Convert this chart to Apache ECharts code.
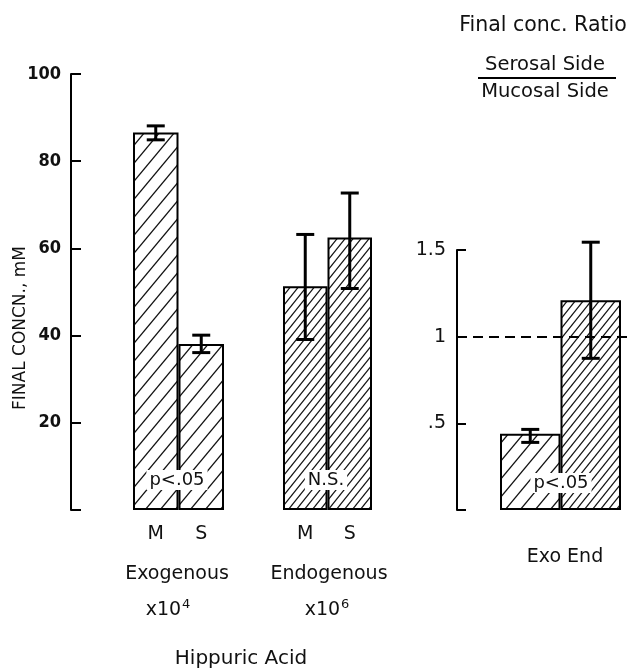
<!DOCTYPE html>
<html>
<head>
<meta charset="utf-8">
<script src="https://cdn.jsdelivr.net/npm/echarts@6/dist/echarts.min.js"></script>
<style>
html,body{margin:0;padding:0;background:#fff;}
#chart{width:630px;height:669px;}
</style>
</head>
<body>
<div id="chart"></div>
<script>
// ---- data ----
const sideCats = ['M', 'S'];
const exoMean = [86.6, 38.1];
const exoLow = [84.9, 36.1];
const exoHigh = [88.1, 40.1];
const endoMean = [51.3, 62.5];
const endoLow = [39.1, 50.8];
const endoHigh = [63.2, 72.7];
const ratioCats = ['Exo', 'End'];
const ratioMean = [0.44, 1.21];
const ratioLow = [0.39, 0.875];
const ratioHigh = [0.465, 1.545];
const concTicks = [0, 20, 40, 60, 80, 100];
const ratioTicks = [0, 0.5, 1, 1.5];
const ratioTickLabels = ['', '.5', '1', '1.5'];
const refRatio = 1;

// ---- hatch patterns ----
function hatch(w, h, lw) {
  const c = document.createElement('canvas');
  c.width = w; c.height = h;
  const ctx = c.getContext('2d');
  ctx.fillStyle = '#fff';
  ctx.fillRect(0, 0, w, h);
  ctx.strokeStyle = '#111';
  ctx.lineWidth = lw;
  [0, -h, h].forEach(function (o) {
    ctx.beginPath();
    ctx.moveTo(-w, 2 * h + o);
    ctx.lineTo(2 * w, -h + o);
    ctx.stroke();
  });
  return c;
}
const wideHatch = { image: hatch(15, 18, 1.3), repeat: 'repeat' };
const denseHatch = { image: hatch(8, 10, 1.2), repeat: 'repeat' };

function errData(lo, hi) { return lo.map(function (v, i) { return [i, v, hi[i]]; }); }
function errItem(params, api) {
  const x = api.value(0);
  const pLo = api.coord([x, api.value(1)]);
  const pHi = api.coord([x, api.value(2)]);
  const hw = 9;
  const st = { stroke: '#000', lineWidth: 3 };
  return {
    type: 'group', children: [
      { type: 'line', shape: { x1: pLo[0], y1: pLo[1], x2: pHi[0], y2: pHi[1] }, style: st },
      { type: 'line', shape: { x1: pLo[0] - hw, y1: pLo[1], x2: pLo[0] + hw, y2: pLo[1] }, style: st },
      { type: 'line', shape: { x1: pHi[0] - hw, y1: pHi[1], x2: pHi[0] + hw, y2: pHi[1] }, style: st }
    ]
  };
}

const FONT = "'DejaVu Sans', sans-serif";
const NARROW = "'Liberation Sans Narrow','DejaVu Sans Condensed',sans-serif";

function catX(gi, data, showLabels) {
  return {
    type: 'category', gridIndex: gi, data: data,
    axisLine: { show: false }, axisTick: { show: false },
    axisLabel: { show: showLabels, margin: 15, fontFamily: FONT, fontSize: 19, color: '#111' }
  };
}
function barSeries(xi, vals, pattern) {
  return {
    type: 'bar', xAxisIndex: xi, yAxisIndex: xi, data: vals, barWidth: '100%', z: 3,
    itemStyle: { color: pattern, borderColor: '#000', borderWidth: 2 },
    silent: true, animation: false
  };
}
function errSeries(xi, lo, hi) {
  return {
    type: 'custom', xAxisIndex: xi, yAxisIndex: xi, data: errData(lo, hi),
    encode: { x: 0, y: [1, 2] }, renderItem: errItem, z: 5, animation: false, silent: true
  };
}
function txt(x, y, s, size, extra) {
  const st = Object.assign({ text: s, font: size + "px 'DejaVu Sans', sans-serif", fill: '#111', textAlign: 'center', textVerticalAlign: 'middle' }, extra || {});
  return { type: 'text', x: x, y: y, z: 100, style: st };
}
function powTxt(x, y, exp) {
  return {
    type: 'text', x: x, y: y, z: 100,
    style: {
      text: '{b|x10}{s|' + exp + '}', textAlign: 'center', textVerticalAlign: 'middle', fill: '#111',
      rich: {
        b: { fontFamily: FONT, fontSize: 19, lineHeight: 24, fill: '#111' },
        s: { fontFamily: FONT, fontSize: 13, lineHeight: 24, verticalAlign: 'top', fill: '#111', padding: [0, 0, 10, 1] }
      }
    }
  };
}

const chart = echarts.init(document.getElementById('chart'), null, { renderer: 'canvas' });
chart.setOption({
  backgroundColor: '#fff',
  animation: false,
  grid: [
    { left: 133, top: 74, width: 91, height: 436 },
    { left: 283, top: 74, width: 89, height: 436 },
    { left: 500, top: 250, width: 121, height: 260 },
    { left: 457, top: 250, right: 0, height: 260 }
  ],
  xAxis: [
    catX(0, sideCats, true),
    catX(1, sideCats, true),
    catX(2, ratioCats, false),
    { type: 'value', gridIndex: 3, show: false, min: 0, max: 1 }
  ],
  yAxis: [
    {
      type: 'value', gridIndex: 0, min: concTicks[0], max: concTicks[concTicks.length - 1], interval: 20,
      offset: 62, splitLine: { show: false },
      axisLine: { show: true, lineStyle: { color: '#000', width: 2 } },
      axisTick: { show: true, inside: true, length: 10, lineStyle: { color: '#000', width: 2 } },
      axisLabel: {
        margin: 10, fontFamily: NARROW, fontWeight: 'bold', fontSize: 18, color: '#111',
        formatter: function (v) { return v === 0 ? '' : String(v); }
      }
    },
    { type: 'value', gridIndex: 1, min: 0, max: 100, show: false, splitLine: { show: false } },
    {
      type: 'value', gridIndex: 2, min: ratioTicks[0], max: ratioTicks[ratioTicks.length - 1], interval: 0.5,
      offset: 43, splitLine: { show: false },
      axisLine: { show: true, lineStyle: { color: '#000', width: 2 } },
      axisTick: { show: true, inside: true, length: 9, lineStyle: { color: '#000', width: 2 } },
      axisLabel: {
        margin: 11, fontFamily: FONT, fontSize: 19, color: '#111',
        formatter: function (v) { const i = ratioTicks.indexOf(v); return i >= 0 ? ratioTickLabels[i] : ''; }
      }
    },
    { type: 'value', gridIndex: 3, min: 0, max: 1.5, show: false, splitLine: { show: false } }
  ],
  series: [
    {
      type: 'line', xAxisIndex: 3, yAxisIndex: 3, data: [], z: 1, silent: true,
      markLine: {
        silent: true, symbol: 'none', animation: false,
        label: { show: false },
        lineStyle: { color: '#000', type: [10, 6], width: 2, opacity: 1 },
        emphasis: { disabled: true },
        data: [{ yAxis: refRatio }]
      }
    },
    barSeries(0, exoMean, wideHatch),
    barSeries(1, endoMean, denseHatch),
    {
      type: 'bar', xAxisIndex: 2, yAxisIndex: 2, barWidth: '100%', z: 3, silent: true,
      data: [
        { value: ratioMean[0], itemStyle: { color: wideHatch } },
        { value: ratioMean[1], itemStyle: { color: denseHatch } }
      ],
      itemStyle: { borderColor: '#000', borderWidth: 2 }
    },
    errSeries(0, exoLow, exoHigh),
    errSeries(1, endoLow, endoHigh),
    errSeries(2, ratioLow, ratioHigh)
  ],
  graphic: [
    { type: 'text', x: 21, y: 328, rotation: Math.PI / 2, z: 100,
      style: { text: 'FINAL CONCN., mM', font: "17px 'DejaVu Sans', sans-serif", fill: '#111', textAlign: 'center', textVerticalAlign: 'middle' } },
    txt(177, 480, 'p<.05', 18, { backgroundColor: '#fff', padding: [1, 3] }),
    txt(326, 480, 'N.S.', 18, { backgroundColor: '#fff', padding: [1, 3] }),
    txt(561, 483, 'p<.05', 18, { backgroundColor: '#fff', padding: [1, 3] }),
    txt(177, 574, 'Exogenous', 19),
    powTxt(168, 610, '4'),
    txt(329, 574, 'Endogenous', 19),
    powTxt(327, 610, '6'),
    txt(241, 659, 'Hippuric Acid', 20),
    txt(565, 557, 'Exo End', 19),
    txt(543, 26, 'Final conc. Ratio', 20.5),
    txt(545, 65, 'Serosal Side', 19.5),
    { type: 'line', z: 100, shape: { x1: 478, y1: 78, x2: 616, y2: 78 }, style: { stroke: '#000', lineWidth: 2 } },
    txt(545, 92, 'Mucosal Side', 19.5)
  ]
});
</script>
</body>
</html>
